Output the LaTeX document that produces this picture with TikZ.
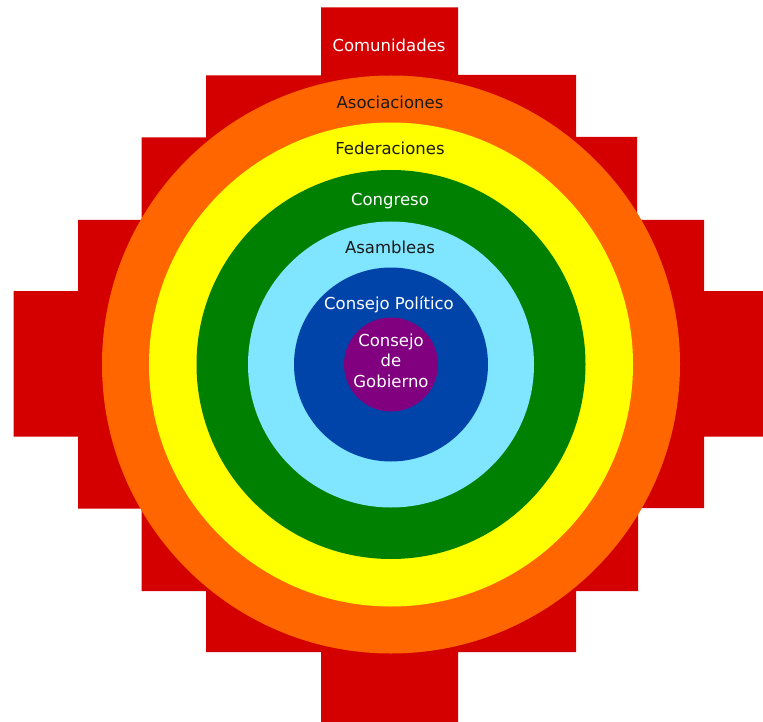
\documentclass[tikz,border=0pt]{standalone}
\usepackage{fontspec}
\setmainfont{DejaVu Sans}
\definecolor{ringred}{HTML}{D40000}
\definecolor{ringorange}{HTML}{FF6600}
\definecolor{ringyellow}{HTML}{FFFF00}
\definecolor{ringgreen}{HTML}{008000}
\definecolor{ringsky}{HTML}{80E5FF}
\definecolor{ringblue}{HTML}{0044AA}
\definecolor{ringpurple}{HTML}{800080}
\begin{document}
\begin{tikzpicture}[x=1pt,y=-1pt,
  ring/.style={draw=none},
  lbl/.style={font=\fontsize{16.5}{20.5}\selectfont, inner sep=0pt, anchor=base},
  lightlbl/.style={lbl, text=white},
  darklbl/.style={lbl, text=black!90}]
  \useasboundingbox (0,0) rectangle (763,722);

  % stepped red base
  \fill[ringred]
    (321,7.5) -- (458,7.5) -- (458,75) -- (576,75) -- (576,137) -- (637,137)
    -- (637,220) -- (704,220) -- (704,291) -- (763,291) -- (763,436.5)
    -- (704,436.5) -- (704,508) -- (638,508) -- (638,591) -- (576,591)
    -- (576,652) -- (458,652) -- (458,722) -- (321,722) -- (321,652)
    -- (206,652) -- (206,591) -- (141.5,591) -- (141.5,508.5) -- (78,508.5)
    -- (78,436.5) -- (13.5,436.5) -- (13.5,291) -- (78,291) -- (78,220)
    -- (141.5,220) -- (141.5,137.5) -- (206,137.5) -- (206,75.5) -- (321,75.5)
    -- cycle;

  % concentric rings
  \coordinate (c) at (391,364.5);
  \fill[ringorange] (c) circle (289);
  \fill[ringyellow] (c) circle (242);
  \fill[ringgreen]  (c) circle (194.5);
  \fill[ringsky]    (c) circle (143);
  \fill[ringblue]   (c) circle (97);
  \fill[ringpurple] (c) circle (47);

  % labels
  \node[lightlbl] (comunidades) at (389,51.5) {Comunidades};
  \node[darklbl]  (asociaciones) at (390,109) {Asociaciones};
  \node[darklbl]  (federaciones) at (390,155) {Federaciones};
  \node[lightlbl] (congreso) at (390,206) {Congreso};
  \node[darklbl]  (asambleas) at (390,253) {Asambleas};
  \node[lightlbl] (politico) at (389,309.5) {Consejo Político};
  \node[lightlbl, anchor=center, align=center] (gobierno) at (391,360.5)
    {Consejo\\de\\Gobierno};
\end{tikzpicture}
\end{document}
